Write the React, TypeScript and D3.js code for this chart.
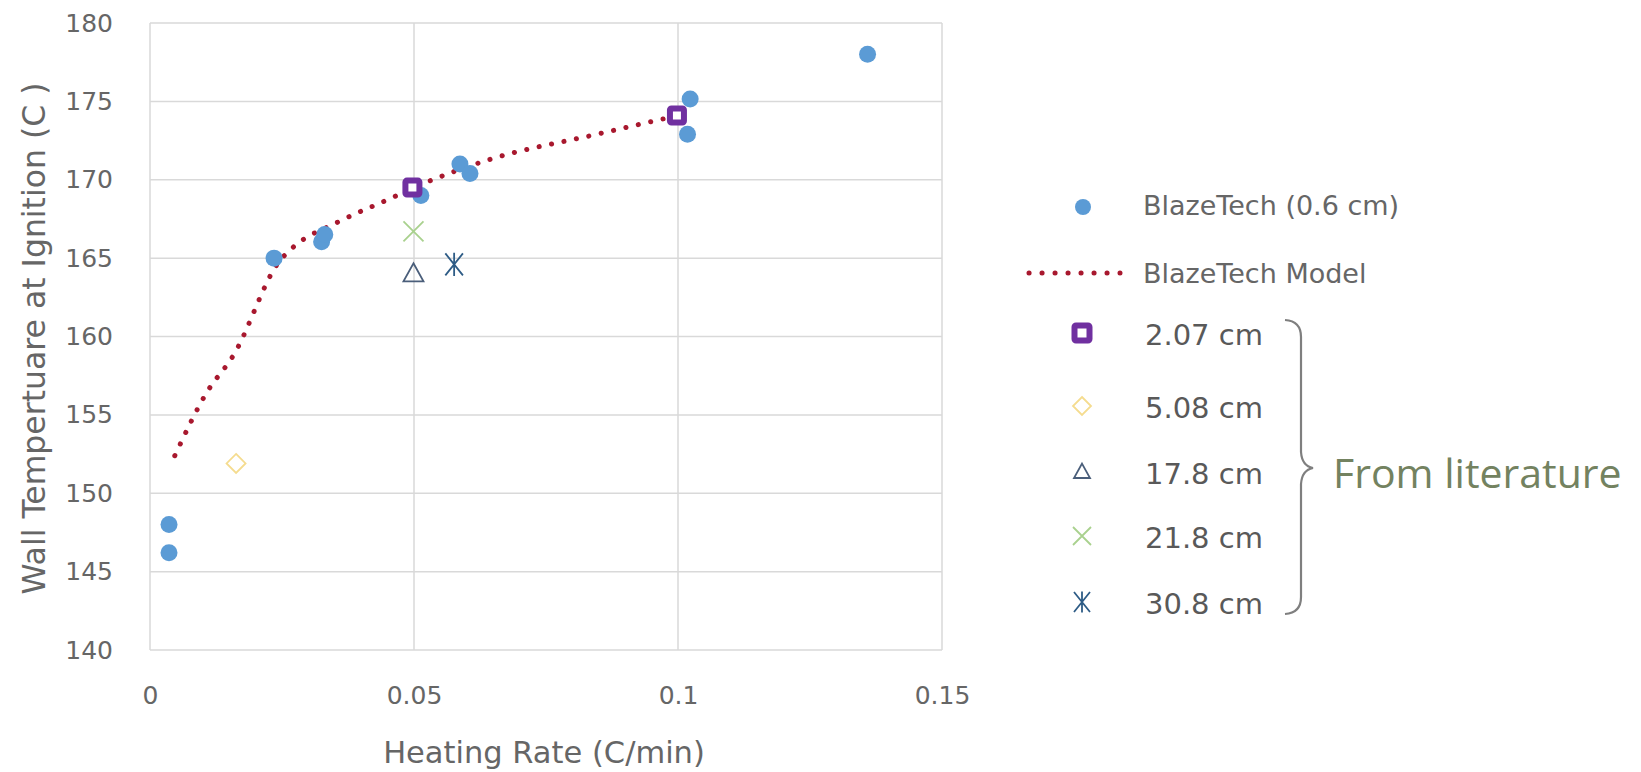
import React, { useEffect, useRef } from "react";
import * as d3 from "d3";

// BlazeTech measurements (0.6 cm)
const blazeX = [0.0036, 0.0036, 0.0235, 0.0325, 0.0331, 0.0513, 0.0587, 0.0606, 0.1018, 0.1023, 0.1359];
const blazeY = [148.0, 146.2, 165.0, 166.05, 166.5, 169.0, 171.0, 170.4, 172.9, 175.15, 178.0];

// BlazeTech model curve
const modelX = [0.0047, 0.0107, 0.0158, 0.0245, 0.0268, 0.0356, 0.0455, 0.05, 0.0644, 0.0846, 0.1];
const modelY = [152.4, 156.4, 158.8, 164.8, 165.6, 167.3, 168.8, 169.5, 171.3, 172.9, 174.1];

// literature values
const lit207X = [0.0497, 0.0998];
const lit207Y = [169.5, 174.1];
const lit508X = [0.0163];
const lit508Y = [151.9];
const lit178X = [0.0499];
const lit178Y = [164.0];
const lit218X = [0.0499];
const lit218Y = [166.7];
const lit308X = [0.0576];
const lit308Y = [164.6];

const xTicks = [0, 0.05, 0.1, 0.15];
const xTickLabels = ["0", "0.05", "0.1", "0.15"];
const yTicks = [140, 145, 150, 155, 160, 165, 170, 175, 180];

const legendTop = ["BlazeTech (0.6 cm)", "BlazeTech Model"];
const litLabels = ["2.07 cm", "5.08 cm", "17.8 cm", "21.8 cm", "30.8 cm"];

const W = 1641, H = 772;
const margin = { top: 23, left: 150, right: 699, bottom: 122 };

const tickFont = "'DejaVu Sans', sans-serif";

// marker drawers
function squareMarker(g, x, y, s) {
  g.append("rect").attr("x", x - s / 2).attr("y", y - s / 2).attr("width", s).attr("height", s)
    .attr("fill", "#fff").attr("stroke", "#7030A0").attr("stroke-width", 6).attr("rx", 1.5);
}
function diamondMarker(g, x, y, r) {
  const p = d3.path();
  p.moveTo(x, y - r); p.lineTo(x + r, y); p.lineTo(x, y + r); p.lineTo(x - r, y); p.closePath();
  g.append("path").attr("d", p.toString()).attr("fill", "none").attr("stroke", "#F5DC8F").attr("stroke-width", 1.8);
}
function triangleMarker(g, x, y, r) {
  const p = d3.path();
  p.moveTo(x, y - r * 1.05); p.lineTo(x + r, y + r * 0.75); p.lineTo(x - r, y + r * 0.75); p.closePath();
  g.append("path").attr("d", p.toString()).attr("fill", "none").attr("stroke", "#4A5E7A").attr("stroke-width", 1.8);
}
function xMarker(g, x, y, r) {
  const p = d3.path();
  p.moveTo(x - r, y - r); p.lineTo(x + r, y + r); p.moveTo(x + r, y - r); p.lineTo(x - r, y + r);
  g.append("path").attr("d", p.toString()).attr("stroke", "#A9D18E").attr("stroke-width", 1.8);
}
function asteriskMarker(g, x, y, r) {
  const p = d3.path();
  p.moveTo(x - r * 0.8, y - r); p.lineTo(x + r * 0.8, y + r); p.moveTo(x + r * 0.8, y - r); p.lineTo(x - r * 0.8, y + r);
  p.moveTo(x, y - r * 1.05); p.lineTo(x, y + r * 1.05);
  g.append("path").attr("d", p.toString()).attr("stroke", "#2E5C86").attr("stroke-width", 1.8);
}

export default function App() {
  const ref = useRef(null);

  useEffect(() => {
    const svg = d3.select(ref.current);
    svg.selectAll("*").remove();

    const x = d3.scaleLinear().domain([0, 0.15]).range([margin.left, W - margin.right]);
    const y = d3.scaleLinear().domain([140, 180]).range([H - margin.bottom, margin.top]);

    svg.append("rect").attr("width", W).attr("height", H).attr("fill", "#fff");

    // grid
    const grid = svg.append("g");
    grid.selectAll("line.h").data(yTicks).join("line")
      .attr("x1", x(0)).attr("x2", x(0.15)).attr("y1", d => y(d)).attr("y2", d => y(d))
      .attr("stroke", "#d9d9d9").attr("stroke-width", 1.5);
    grid.selectAll("line.v").data(xTicks).join("line")
      .attr("y1", y(140)).attr("y2", y(180)).attr("x1", d => x(d)).attr("x2", d => x(d))
      .attr("stroke", "#d9d9d9").attr("stroke-width", 1.5);

    // axes (labels only, Excel style)
    const yAxis = svg.append("g").attr("transform", `translate(${x(0) - 37},0)`)
      .call(d3.axisLeft(y).tickValues(yTicks).tickSize(0).tickPadding(0));
    yAxis.select(".domain").remove();
    yAxis.selectAll("text").attr("font-family", tickFont).attr("font-size", 25).attr("fill", "#666");

    const xAxis = svg.append("g").attr("transform", `translate(0,${y(140) + 36})`)
      .call(d3.axisBottom(x).tickValues(xTicks).tickFormat((d, i) => xTickLabels[i]).tickSize(0).tickPadding(0));
    xAxis.select(".domain").remove();
    xAxis.selectAll("text").attr("font-family", tickFont).attr("font-size", 25).attr("fill", "#666");

    // axis titles
    svg.append("text").attr("x", (x(0) + x(0.15)) / 2 - 2).attr("y", 763).attr("text-anchor", "middle")
      .attr("font-family", tickFont).attr("font-size", 30.5).attr("fill", "#666")
      .text("Heating Rate (C/min)");
    svg.append("text").attr("transform", `translate(45,${(y(140) + y(180)) / 2 + 2}) rotate(-90)`)
      .attr("text-anchor", "middle").attr("font-family", tickFont).attr("font-size", 31.5).attr("fill", "#666")
      .text("Wall Tempertuare at Ignition (C )");

    // model line
    const line = d3.line().x(d => x(d[0])).y(d => y(d[1])).curve(d3.curveMonotoneX);
    svg.append("path").attr("d", line(modelX.map((v, i) => [v, modelY[i]])))
      .attr("fill", "none").attr("stroke", "#A8182E").attr("stroke-width", 5)
      .attr("stroke-linecap", "round").attr("stroke-dasharray", "0.1 12.6");

    // literature markers
    const marks = svg.append("g");
    lit508X.forEach((v, i) => diamondMarker(marks, x(v), y(lit508Y[i]), 9.5));
    lit178X.forEach((v, i) => triangleMarker(marks, x(v), y(lit178Y[i]), 10));
    lit218X.forEach((v, i) => xMarker(marks, x(v), y(lit218Y[i]), 10));
    lit308X.forEach((v, i) => asteriskMarker(marks, x(v), y(lit308Y[i]), 11));

    // blazetech points
    svg.append("g").selectAll("circle").data(blazeX).join("circle")
      .attr("cx", d => x(d)).attr("cy", (d, i) => y(blazeY[i])).attr("r", 8.5)
      .attr("fill", "#5B9BD5");

    lit207X.forEach((v, i) => squareMarker(marks, x(v), y(lit207Y[i]), 14));
    marks.raise();

    // legend
    const lg = svg.append("g");
    lg.append("circle").attr("cx", 1083).attr("cy", 207).attr("r", 8).attr("fill", "#5B9BD5");
    lg.append("line").attr("x1", 1029).attr("x2", 1120).attr("y1", 273).attr("y2", 273)
      .attr("stroke", "#A8182E").attr("stroke-width", 5).attr("stroke-linecap", "round").attr("stroke-dasharray", "0.1 12.9");
    lg.selectAll("text.top").data(legendTop).join("text")
      .attr("x", 1143).attr("y", (d, i) => 215 + i * 68)
      .attr("font-family", tickFont).attr("font-size", 27).attr("fill", "#666").text(d => d);

    const rowY = [333, 406, 472, 536, 602];
    squareMarker(lg, 1082, rowY[0], 15);
    diamondMarker(lg, 1082, rowY[1], 9);
    triangleMarker(lg, 1082, rowY[2], 8);
    xMarker(lg, 1082, rowY[3], 9);
    asteriskMarker(lg, 1082, rowY[4], 10);
    lg.selectAll("text.lit").data(litLabels).join("text")
      .attr("x", 1145).attr("y", (d, i) => rowY[i] + 12)
      .attr("font-family", tickFont).attr("font-size", 29).attr("fill", "#595959").text(d => d);

    // brace
    const b = d3.path();
    b.moveTo(1285, 320);
    b.quadraticCurveTo(1301, 321, 1301, 337);
    b.lineTo(1301, 452);
    b.quadraticCurveTo(1302, 466, 1313, 468);
    b.quadraticCurveTo(1302, 470, 1301, 484);
    b.lineTo(1301, 597);
    b.quadraticCurveTo(1301, 613, 1285, 614);
    lg.append("path").attr("d", b.toString()).attr("fill", "none").attr("stroke", "#7f7f7f").attr("stroke-width", 2.2);

    lg.append("text").attr("x", 1333).attr("y", 488)
      .attr("font-family", "'Open Sans', sans-serif").attr("font-size", 41).attr("fill", "#738260")
      .text("From literature");
  }, []);

  return <svg ref={ref} width={W} height={H} style={{ position: "absolute", left: 0, top: 0 }}></svg>;
}
